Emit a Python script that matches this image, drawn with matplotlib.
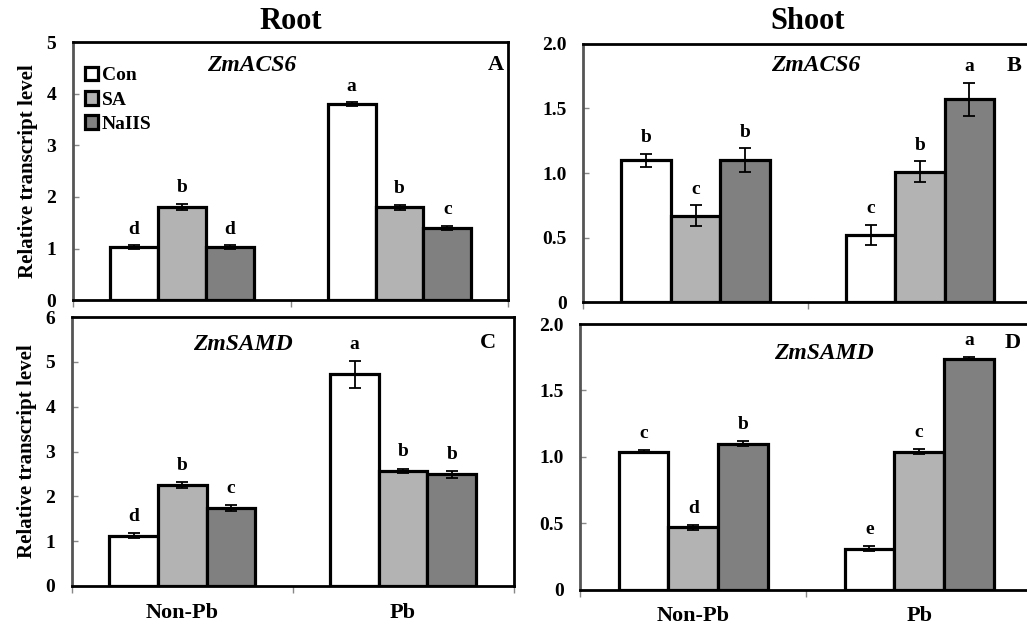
import matplotlib.pyplot as plt
import numpy as np

plt.rcParams['font.family'] = ['Liberation Serif', 'DejaVu Serif']
plt.rcParams['font.weight'] = 'bold'

groups = ["Non-Pb", "Pb"]
treatments = ["Con", "SA", "NaIIS"]
colors = ["#ffffff", "#b3b3b3", "#808080"]

# panel A: root ZmACS6
acs_root = [[1.03, 1.80, 1.03], [3.80, 1.80, 1.40]]
acs_root_err = [[0.03, 0.06, 0.03], [0.03, 0.05, 0.04]]
acs_root_lbl = [["d", "b", "d"], ["a", "b", "c"]]

# panel B: shoot ZmACS6
acs_shoot = [[1.10, 0.67, 1.10], [0.52, 1.01, 1.57]]
acs_shoot_err = [[0.05, 0.08, 0.09], [0.08, 0.08, 0.13]]
acs_shoot_lbl = [["b", "c", "b"], ["c", "b", "a"]]

# panel C: root ZmSAMD
samd_root = [[1.12, 2.25, 1.74], [4.72, 2.57, 2.49]]
samd_root_err = [[0.06, 0.06, 0.06], [0.31, 0.05, 0.07]]
samd_root_lbl = [["d", "b", "c"], ["a", "b", "b"]]

# panel D: shoot ZmSAMD
samd_shoot = [[1.04, 0.47, 1.10], [0.31, 1.04, 1.74]]
samd_shoot_err = [[0.01, 0.02, 0.02], [0.02, 0.02, 0.01]]
samd_shoot_lbl = [["c", "d", "b"], ["e", "c", "a"]]

fig = plt.figure(figsize=(10.27, 6.28), dpi=100)

axA = fig.add_axes([0.071, 0.522, 0.424, 0.411])
axB = fig.add_axes([0.568, 0.519, 0.437, 0.411])
axC = fig.add_axes([0.070, 0.067, 0.430, 0.428])
axD = fig.add_axes([0.565, 0.061, 0.440, 0.423])

BW = 0.22


def rysuj(ax, vals, errs, lbls, ymax, yticks, yticklabels, gene, gene_pos, letter, letter_pos,
          ylabel, xlabels):
    vals = np.asarray(vals)
    errs = np.asarray(errs)
    for g in range(len(groups)):
        for t in range(len(treatments)):
            x = g + 0.5 + (t - 1) * BW
            ax.bar(x, vals[g, t], width=BW, color=colors[t], edgecolor='black',
                   linewidth=2.3, zorder=2, label=treatments[t] if g == 0 else None)
            ax.errorbar(x, vals[g, t], yerr=errs[g, t], color='black', capsize=4,
                        elinewidth=1.3, capthick=1.3, zorder=3)
            ax.text(x, vals[g, t] + errs[g, t] + ymax * 0.03, lbls[g][t],
                    ha='center', va='bottom', fontsize=14, fontweight='bold')
    ax.set_xlim(0, 2)
    ax.set_ylim(0, ymax)
    ax.set_yticks(yticks)
    ax.set_yticklabels(yticklabels, fontsize=14, fontweight='bold')
    ax.tick_params(axis='y', direction='in', length=4, width=1, color='#888888', pad=12)
    ax.set_xticks([0.5, 1.5])
    ax.set_xticks([0, 1, 2], minor=True)
    ax.tick_params(axis='x', which='major', length=0, pad=12)
    ax.tick_params(axis='x', which='minor', direction='out', length=5, width=1, color='#888888')
    if xlabels:
        ax.set_xticklabels(groups, fontsize=16, fontweight='bold')
    else:
        ax.set_xticklabels([])
    for s in ax.spines.values():
        s.set_linewidth(2)
    ax.spines['left'].set_color('#555555')
    ax.text(gene_pos[0], gene_pos[1], gene, transform=ax.transAxes, ha='center', va='center',
            fontsize=17, fontweight='bold', fontstyle='italic')
    ax.text(letter_pos[0], letter_pos[1], letter, transform=ax.transAxes, ha='center',
            va='center', fontsize=16, fontweight='bold')
    if ylabel:
        ax.set_ylabel('Relative transcript level', fontsize=15, fontweight='bold', labelpad=6)


rysuj(axA, acs_root, acs_root_err, acs_root_lbl, 5, range(6), [str(i) for i in range(6)],
      'ZmACS6', (0.41, 0.91), 'A', (0.972, 0.91), True, False)
rysuj(axB, acs_shoot, acs_shoot_err, acs_shoot_lbl, 2.0, [0, 0.5, 1.0, 1.5, 2.0],
      ['0', '0.5', '1.0', '1.5', '2.0'], 'ZmACS6', (0.517, 0.915), 'B', (0.96, 0.915),
      False, False)
rysuj(axC, samd_root, samd_root_err, samd_root_lbl, 6, range(7), [str(i) for i in range(7)],
      'ZmSAMD', (0.388, 0.90), 'C', (0.943, 0.905), True, True)
rysuj(axD, samd_shoot, samd_shoot_err, samd_shoot_lbl, 2.0, [0, 0.5, 1.0, 1.5, 2.0],
      ['0', '0.5', '1.0', '1.5', '2.0'], 'ZmSAMD', (0.54, 0.89), 'D', (0.958, 0.93),
      False, True)

axA.legend(loc='upper left', bbox_to_anchor=(0.0, 0.95), frameon=False, fontsize=14,
           handlelength=0.7, handleheight=0.7, handletextpad=0.2, labelspacing=0.35,
           borderaxespad=0.2)

fig.text(0.283, 0.965, 'Root', ha='center', va='center', fontsize=22, fontweight='bold')
fig.text(0.786, 0.965, 'Shoot', ha='center', va='center', fontsize=22, fontweight='bold')

fig.savefig('out.png', dpi=100)
